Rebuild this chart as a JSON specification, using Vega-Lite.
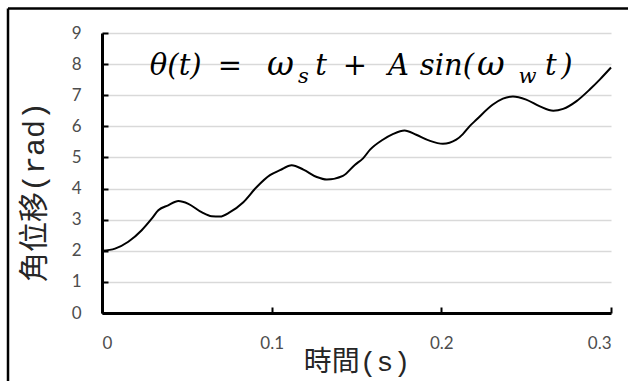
{
  "$schema": "https://vega.github.io/schema/vega-lite/v6.json",
  "width": 509,
  "height": 280,
  "autosize": {"type": "none"},
  "padding": {"left": 102, "top": 33, "right": 17, "bottom": 68},
  "background": "white",
  "config": {
    "view": {"stroke": null},
    "axisX": {
      "grid": false, "labelOverlap": false, "format": "~g",
      "domainColor": "black", "domainWidth": 3,
      "tickColor": "black", "tickWidth": 2, "tickSize": -6,
      "labelFont": "Lato", "labelFontSize": 17, "labelColor": "#4d4d4d", "labelPadding": 28,
      "titleFont": "Liberation Mono, Noto Sans CJK TC", "titleFontSize": 28,
      "titleFontWeight": "normal", "titleColor": "#262626",
      "titleX": 254.5, "titleY": 57, "titleBaseline": "alphabetic", "titleAlign": "center"
    },
    "axisY": {
      "grid": true, "gridColor": "#d9d9d9", "gridWidth": 1.5, "labelOverlap": false,
      "domainColor": "black", "domainWidth": 3,
      "tickColor": "black", "tickWidth": 2, "tickSize": -6,
      "labelFont": "Lato", "labelFontSize": 17, "labelColor": "#4d4d4d", "labelPadding": 27,
      "titleFont": "Liberation Mono, Noto Sans CJK TC", "titleFontSize": 30,
      "titleFontWeight": "normal", "titleColor": "#262626",
      "titleX": -68, "titleY": 158.5, "titleAngle": 270, "titleBaseline": "middle", "titleAlign": "center"
    },
    "text": {"font": "DejaVu Serif", "fontStyle": "italic", "fontSize": 29, "align": "center", "baseline": "alphabetic", "color": "black"}
  },
  "data": {
    "values": [
      {"t": 0, "theta": 2.0},
      {"t": 0.0077, "theta": 2.07},
      {"t": 0.0155, "theta": 2.29},
      {"t": 0.0234, "theta": 2.66},
      {"t": 0.0293, "theta": 3.03},
      {"t": 0.0332, "theta": 3.3},
      {"t": 0.039, "theta": 3.46},
      {"t": 0.045, "theta": 3.6},
      {"t": 0.0509, "theta": 3.51},
      {"t": 0.0587, "theta": 3.24},
      {"t": 0.0646, "theta": 3.11},
      {"t": 0.0695, "theta": 3.1},
      {"t": 0.0754, "theta": 3.24},
      {"t": 0.0833, "theta": 3.56},
      {"t": 0.0912, "theta": 4.05},
      {"t": 0.099, "theta": 4.43},
      {"t": 0.1049, "theta": 4.59},
      {"t": 0.1118, "theta": 4.75},
      {"t": 0.1187, "theta": 4.61},
      {"t": 0.1266, "theta": 4.37},
      {"t": 0.1325, "theta": 4.29},
      {"t": 0.142, "theta": 4.41},
      {"t": 0.149, "theta": 4.76},
      {"t": 0.154, "theta": 4.98},
      {"t": 0.158, "theta": 5.25},
      {"t": 0.1655, "theta": 5.57},
      {"t": 0.1714, "theta": 5.75},
      {"t": 0.1783, "theta": 5.87},
      {"t": 0.1852, "theta": 5.73},
      {"t": 0.193, "theta": 5.54},
      {"t": 0.2009, "theta": 5.44},
      {"t": 0.2088, "theta": 5.57},
      {"t": 0.2127, "theta": 5.75},
      {"t": 0.2166, "theta": 6.0},
      {"t": 0.2206, "theta": 6.21},
      {"t": 0.2304, "theta": 6.7},
      {"t": 0.2363, "theta": 6.89},
      {"t": 0.2422, "theta": 6.96},
      {"t": 0.25, "theta": 6.86},
      {"t": 0.2581, "theta": 6.64},
      {"t": 0.266, "theta": 6.5},
      {"t": 0.2718, "theta": 6.56},
      {"t": 0.2797, "theta": 6.81},
      {"t": 0.2876, "theta": 7.19},
      {"t": 0.2935, "theta": 7.51},
      {"t": 0.3, "theta": 7.89}
    ]
  },
  "layer": [
    {
      "mark": {"type": "line", "color": "black", "strokeWidth": 2, "interpolate": "monotone"},
      "encoding": {
        "x": {"field": "t", "type": "quantitative", "scale": {"domain": [0, 0.3], "nice": false, "zero": false},
              "axis": {"values": [0, 0.1, 0.2, 0.3], "title": "時間(s)"}},
        "y": {"field": "theta", "type": "quantitative", "scale": {"domain": [0, 9], "nice": false},
              "axis": {"values": [0, 1, 2, 3, 4, 5, 6, 7, 8, 9], "title": "角位移(rad)"}}
      }
    },
    {
      "data": {"values": [{}]},
      "mark": {"type": "rule", "color": "black", "strokeWidth": 2.5},
      "encoding": {
        "x": {"datum": -0.0554, "type": "quantitative", "axis": {"values": [0, 0.1, 0.2, 0.3], "title": "時間(s)"}},
        "x2": {"datum": 0.5},
        "y": {"datum": 9.79, "type": "quantitative", "axis": {"values": [0, 1, 2, 3, 4, 5, 6, 7, 8, 9], "title": "角位移(rad)"}}
      }
    },
    {
      "data": {"values": [{}]},
      "mark": {"type": "rule", "color": "black", "strokeWidth": 2.5},
      "encoding": {
        "x": {"datum": -0.0554, "type": "quantitative", "axis": {"values": [0, 0.1, 0.2, 0.3], "title": "時間(s)"}},
        "y": {"datum": 9.79, "type": "quantitative", "axis": {"values": [0, 1, 2, 3, 4, 5, 6, 7, 8, 9], "title": "角位移(rad)"}},
        "y2": {"datum": -3}
      }
    },
    {
      "data": {"values": [{}]},
      "mark": {"type": "text"},
      "encoding": {
        "x": {"datum": 0.03329, "type": "quantitative", "axis": {"values": [0, 0.1, 0.2, 0.3], "title": "時間(s)"}},
        "y": {"datum": 7.648, "type": "quantitative", "axis": {"values": [0, 1, 2, 3, 4, 5, 6, 7, 8, 9], "title": "角位移(rad)"}},
        "text": {"value": "θ"}
      }
    },
    {
      "data": {"values": [{}]},
      "mark": {"type": "text"},
      "encoding": {
        "x": {"datum": 0.04862, "type": "quantitative", "axis": {"values": [0, 0.1, 0.2, 0.3], "title": "時間(s)"}},
        "y": {"datum": 7.648, "type": "quantitative", "axis": {"values": [0, 1, 2, 3, 4, 5, 6, 7, 8, 9], "title": "角位移(rad)"}},
        "text": {"value": "(t)"}
      }
    },
    {
      "data": {"values": [{}]},
      "mark": {"type": "text", "fontStyle": "normal"},
      "encoding": {
        "x": {"datum": 0.07543, "type": "quantitative", "axis": {"values": [0, 0.1, 0.2, 0.3], "title": "時間(s)"}},
        "y": {"datum": 7.648, "type": "quantitative", "axis": {"values": [0, 1, 2, 3, 4, 5, 6, 7, 8, 9], "title": "角位移(rad)"}},
        "text": {"value": "="}
      }
    },
    {
      "data": {"values": [{}]},
      "mark": {"type": "text", "fontSize": 33},
      "encoding": {
        "x": {"datum": 0.10519, "type": "quantitative", "axis": {"values": [0, 0.1, 0.2, 0.3], "title": "時間(s)"}},
        "y": {"datum": 7.648, "type": "quantitative", "axis": {"values": [0, 1, 2, 3, 4, 5, 6, 7, 8, 9], "title": "角位移(rad)"}},
        "text": {"value": "ω"}
      }
    },
    {
      "data": {"values": [{}]},
      "mark": {"type": "text", "fontSize": 21},
      "encoding": {
        "x": {"datum": 0.11874, "type": "quantitative", "axis": {"values": [0, 0.1, 0.2, 0.3], "title": "時間(s)"}},
        "y": {"datum": 7.39, "type": "quantitative", "axis": {"values": [0, 1, 2, 3, 4, 5, 6, 7, 8, 9], "title": "角位移(rad)"}},
        "text": {"value": "s"}
      }
    },
    {
      "data": {"values": [{}]},
      "mark": {"type": "text"},
      "encoding": {
        "x": {"datum": 0.12905, "type": "quantitative", "axis": {"values": [0, 0.1, 0.2, 0.3], "title": "時間(s)"}},
        "y": {"datum": 7.648, "type": "quantitative", "axis": {"values": [0, 1, 2, 3, 4, 5, 6, 7, 8, 9], "title": "角位移(rad)"}},
        "text": {"value": "t"}
      }
    },
    {
      "data": {"values": [{}]},
      "mark": {"type": "text", "fontStyle": "normal"},
      "encoding": {
        "x": {"datum": 0.14909, "type": "quantitative", "axis": {"values": [0, 0.1, 0.2, 0.3], "title": "時間(s)"}},
        "y": {"datum": 7.648, "type": "quantitative", "axis": {"values": [0, 1, 2, 3, 4, 5, 6, 7, 8, 9], "title": "角位移(rad)"}},
        "text": {"value": "+"}
      }
    },
    {
      "data": {"values": [{}]},
      "mark": {"type": "text"},
      "encoding": {
        "x": {"datum": 0.17472, "type": "quantitative", "axis": {"values": [0, 0.1, 0.2, 0.3], "title": "時間(s)"}},
        "y": {"datum": 7.648, "type": "quantitative", "axis": {"values": [0, 1, 2, 3, 4, 5, 6, 7, 8, 9], "title": "角位移(rad)"}},
        "text": {"value": "A"}
      }
    },
    {
      "data": {"values": [{}]},
      "mark": {"type": "text"},
      "encoding": {
        "x": {"datum": 0.2033, "type": "quantitative", "axis": {"values": [0, 0.1, 0.2, 0.3], "title": "時間(s)"}},
        "y": {"datum": 7.648, "type": "quantitative", "axis": {"values": [0, 1, 2, 3, 4, 5, 6, 7, 8, 9], "title": "角位移(rad)"}},
        "text": {"value": "sin("}
      }
    },
    {
      "data": {"values": [{}]},
      "mark": {"type": "text", "fontSize": 34},
      "encoding": {
        "x": {"datum": 0.2292, "type": "quantitative", "axis": {"values": [0, 0.1, 0.2, 0.3], "title": "時間(s)"}},
        "y": {"datum": 7.648, "type": "quantitative", "axis": {"values": [0, 1, 2, 3, 4, 5, 6, 7, 8, 9], "title": "角位移(rad)"}},
        "text": {"value": "ω"}
      }
    },
    {
      "data": {"values": [{}]},
      "mark": {"type": "text", "fontSize": 21},
      "encoding": {
        "x": {"datum": 0.25074, "type": "quantitative", "axis": {"values": [0, 0.1, 0.2, 0.3], "title": "時間(s)"}},
        "y": {"datum": 7.39, "type": "quantitative", "axis": {"values": [0, 1, 2, 3, 4, 5, 6, 7, 8, 9], "title": "角位移(rad)"}},
        "text": {"value": "w"}
      }
    },
    {
      "data": {"values": [{}]},
      "mark": {"type": "text"},
      "encoding": {
        "x": {"datum": 0.26459, "type": "quantitative", "axis": {"values": [0, 0.1, 0.2, 0.3], "title": "時間(s)"}},
        "y": {"datum": 7.648, "type": "quantitative", "axis": {"values": [0, 1, 2, 3, 4, 5, 6, 7, 8, 9], "title": "角位移(rad)"}},
        "text": {"value": "t"}
      }
    },
    {
      "data": {"values": [{}]},
      "mark": {"type": "text"},
      "encoding": {
        "x": {"datum": 0.27401, "type": "quantitative", "axis": {"values": [0, 0.1, 0.2, 0.3], "title": "時間(s)"}},
        "y": {"datum": 7.648, "type": "quantitative", "axis": {"values": [0, 1, 2, 3, 4, 5, 6, 7, 8, 9], "title": "角位移(rad)"}},
        "text": {"value": ")"}
      }
    }
  ]
}
